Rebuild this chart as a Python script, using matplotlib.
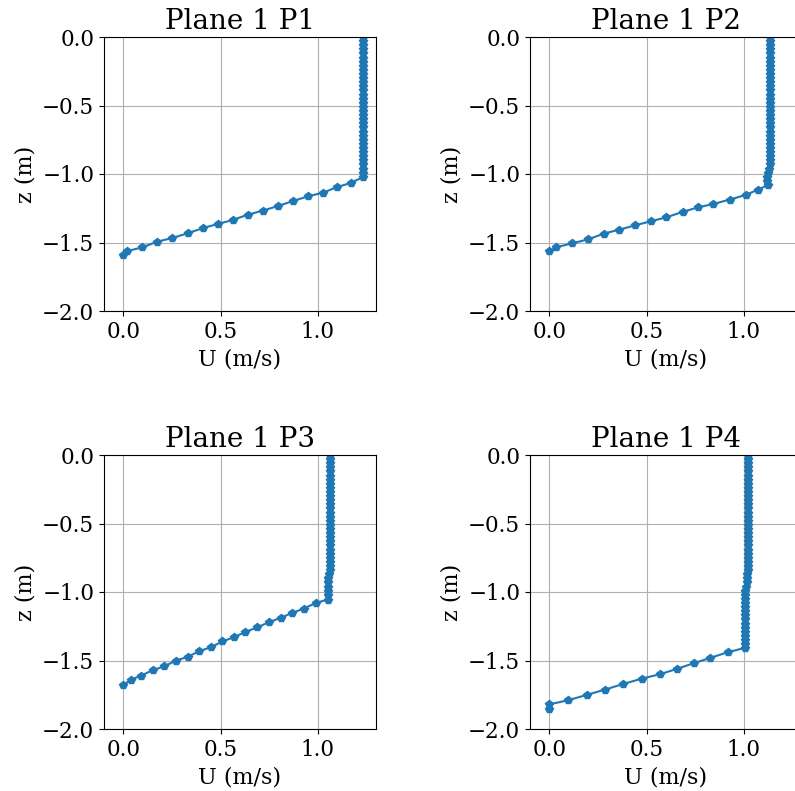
import matplotlib
matplotlib.use("Agg")
import matplotlib.pyplot as plt

plt.rcParams['font.family'] = ['DejaVu Serif']

titles = ["Plane 1 P1", "Plane 1 P2", "Plane 1 P3", "Plane 1 P4"]
x_label = "U (m/s)"
y_label = "z (m)"
x_ticks = [0.0, 0.5, 1.0]
y_ticks = [0.0, -0.5, -1.0, -1.5, -2.0]

# Panel P1
z_p1 = [0.00, -0.03, -0.06, -0.09, -0.12, -0.15, -0.18, -0.21, -0.24, -0.27,
        -0.30, -0.33, -0.36, -0.39, -0.42, -0.45, -0.48, -0.51, -0.54, -0.57,
        -0.60, -0.63, -0.66, -0.69, -0.72, -0.75, -0.78, -0.81, -0.84, -0.87,
        -0.90, -0.93, -0.96, -0.99, -1.022,
        -1.066, -1.095, -1.136, -1.163, -1.197, -1.234, -1.267, -1.297, -1.336,
        -1.365, -1.396, -1.433, -1.467, -1.494, -1.535, -1.564, -1.593]
u_p1 = [1.233, 1.233, 1.233, 1.233, 1.233, 1.233, 1.233, 1.233, 1.233, 1.233,
        1.233, 1.233, 1.233, 1.233, 1.233, 1.233, 1.233, 1.233, 1.233, 1.233,
        1.233, 1.233, 1.233, 1.233, 1.233, 1.233, 1.233, 1.233, 1.233, 1.233,
        1.233, 1.233, 1.233, 1.233, 1.233,
        1.169, 1.100, 1.028, 0.950, 0.873, 0.795, 0.718, 0.640, 0.562,
        0.485, 0.407, 0.330, 0.252, 0.174, 0.097, 0.017, 0.000]

# Panel P2
z_p2 = [0.00, -0.03, -0.06, -0.09, -0.12, -0.15, -0.18, -0.21, -0.24, -0.27,
        -0.30, -0.33, -0.36, -0.39, -0.42, -0.45, -0.48, -0.51, -0.54, -0.57,
        -0.60, -0.63, -0.66, -0.69, -0.72, -0.75, -0.78, -0.81, -0.84, -0.87,
        -0.90, -0.93, -0.96, -0.99, -1.02, -1.05, -1.082,
        -1.114, -1.153, -1.187, -1.219, -1.243, -1.277, -1.316, -1.345, -1.374,
        -1.406, -1.435, -1.477, -1.506, -1.535, -1.564]
u_p2 = [1.133, 1.133, 1.133, 1.133, 1.133, 1.133, 1.133, 1.133, 1.133, 1.133,
        1.133, 1.133, 1.133, 1.133, 1.133, 1.133, 1.133, 1.133, 1.133, 1.133,
        1.133, 1.133, 1.133, 1.133, 1.133, 1.133, 1.133, 1.133, 1.133, 1.133,
        1.133, 1.133, 1.132, 1.125, 1.122, 1.121, 1.123,
        1.074, 1.010, 0.927, 0.844, 0.766, 0.685, 0.602, 0.522, 0.443,
        0.360, 0.280, 0.199, 0.117, 0.034, 0.000]

# Panel P3
z_p3 = [0.00, -0.03, -0.06, -0.09, -0.12, -0.15, -0.18, -0.21, -0.24, -0.27,
        -0.30, -0.33, -0.36, -0.39, -0.42, -0.45, -0.48, -0.51, -0.54, -0.57,
        -0.60, -0.63, -0.66, -0.69, -0.72, -0.75, -0.78, -0.81, -0.84, -0.87,
        -0.90, -0.93, -0.96, -0.99, -1.02, -1.055,
        -1.080, -1.121, -1.153, -1.189, -1.220, -1.259, -1.291, -1.330, -1.361,
        -1.403, -1.432, -1.474, -1.500, -1.542, -1.571, -1.610, -1.639, -1.678]
u_p3 = [1.062, 1.062, 1.062, 1.062, 1.062, 1.062, 1.062, 1.062, 1.062, 1.062,
        1.062, 1.062, 1.062, 1.062, 1.062, 1.062, 1.062, 1.062, 1.062, 1.062,
        1.062, 1.062, 1.062, 1.062, 1.062, 1.062, 1.062, 1.062, 1.061, 1.060,
        1.054, 1.052, 1.052, 1.051, 1.052, 1.052,
        0.990, 0.928, 0.868, 0.809, 0.749, 0.688, 0.628, 0.569, 0.509,
        0.450, 0.390, 0.330, 0.271, 0.211, 0.150, 0.092, 0.041, 0.000]

# Panel P4
z_p4 = [0.00, -0.03, -0.06, -0.09, -0.12, -0.15, -0.18, -0.21, -0.24, -0.27,
        -0.30, -0.33, -0.36, -0.39, -0.42, -0.45, -0.48, -0.51, -0.54, -0.57,
        -0.60, -0.63, -0.66, -0.69, -0.72, -0.75, -0.78, -0.81, -0.84, -0.87,
        -0.90, -0.93, -0.96, -0.99, -1.02, -1.05, -1.08, -1.11, -1.14, -1.17,
        -1.20, -1.23, -1.26, -1.29, -1.32, -1.35, -1.38, -1.408,
        -1.440, -1.481, -1.520, -1.562, -1.600, -1.632, -1.671, -1.712, -1.751,
        -1.790, -1.820, -1.851]
u_p4 = [1.020, 1.020, 1.020, 1.020, 1.020, 1.020, 1.020, 1.020, 1.020, 1.020,
        1.020, 1.020, 1.020, 1.020, 1.020, 1.020, 1.020, 1.020, 1.020, 1.020,
        1.020, 1.020, 1.020, 1.020, 1.020, 1.020, 1.020, 1.020, 1.020, 1.019,
        1.018, 1.016, 1.010, 1.008, 1.008, 1.008, 1.008, 1.008, 1.008, 1.008,
        1.008, 1.008, 1.008, 1.008, 1.008, 1.008, 1.008, 1.005,
        0.917, 0.828, 0.742, 0.655, 0.569, 0.477, 0.380, 0.287, 0.192,
        0.097, 0.000, 0.000]

series = [(u_p1, z_p1), (u_p2, z_p2), (u_p3, z_p3), (u_p4, z_p4)]

W, H = 795, 791
fig = plt.figure(figsize=(W / 100, H / 100), dpi=100)
ax_w, ax_h = 272 / W, 274 / H
lefts = [104 / W, 530 / W, 104 / W, 530 / W]
bottoms = [1 - 311 / H, 1 - 311 / H, 1 - 729 / H, 1 - 729 / H]

for i, (u, z) in enumerate(series):
    ax = fig.add_axes([lefts[i], bottoms[i], ax_w, ax_h])
    ax.plot(u, z, marker='p', color='#1f77b4', markersize=6, linewidth=1.5)
    ax.set_xlim(-0.1, 1.3)
    ax.set_ylim(-2.0, 0.0)
    ax.set_xticks(x_ticks)
    ax.set_yticks(y_ticks)
    ax.grid(True)
    ax.tick_params(labelsize=15.5)
    ax.set_xlabel(x_label, fontsize=16)
    ax.set_ylabel(y_label, fontsize=16)
    ax.set_title(titles[i], fontsize=20)

fig.savefig("out.png", dpi=100)
